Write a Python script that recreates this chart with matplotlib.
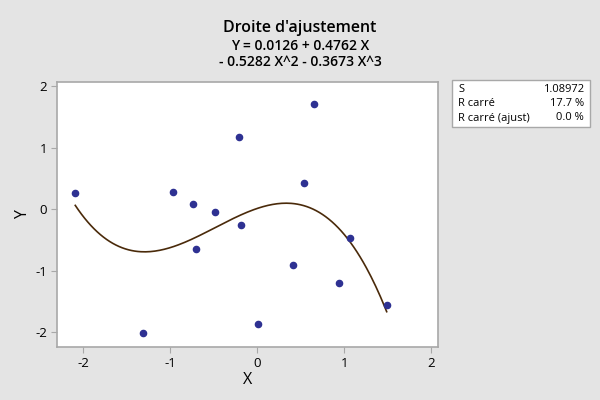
import numpy as np
import matplotlib
matplotlib.use("Agg")
import matplotlib.pyplot as plt
from matplotlib.patches import Rectangle

# observed points
x_vals = [-2.09, -1.31, -0.97, -0.74, -0.70, -0.48, -0.21, -0.18,
          0.01, 0.41, 0.54, 0.66, 0.94, 1.07, 1.49]
y_vals = [0.26, -2.01, 0.28, 0.08, -0.65, -0.05, 1.17, -0.26,
          -1.87, -0.91, 0.43, 1.72, -1.20, -0.47, -1.56]

# fitted cubic (from the title)
coefs = [0.0126, 0.4762, -0.5282, -0.3673]

stat_names = ["S", "R carré", "R carré (ajust)"]
stat_values = ["1.08972", "17.7 %", "0.0 %"]

x_ticks = [-2, -1, 0, 1, 2]
y_ticks = [-2, -1, 0, 1, 2]

plt.rcParams['font.family'] = ['Open Sans', 'DejaVu Sans']

bg = "#e4e4e4"
edge = "#a8a8a8"

fig = plt.figure(figsize=(6, 4), dpi=100, facecolor=bg)
ax = fig.add_axes([0.095, 0.1325, 0.635, 0.6625])
ax.set_facecolor("white")

xs = np.linspace(min(x_vals), max(x_vals), 200)
ys = coefs[0] + coefs[1] * xs + coefs[2] * xs ** 2 + coefs[3] * xs ** 3
ax.plot(xs, ys, color="#4a2a0a", linewidth=1.2, zorder=2)
ax.scatter(x_vals, y_vals, s=20, color="#2e3192", zorder=3)

ax.set_xlim(-2.30, 2.08)
ax.set_ylim(-2.24, 2.07)
ax.set_xticks(x_ticks)
ax.set_yticks(y_ticks)
ax.set_xticklabels([str(t) for t in x_ticks])
ax.set_yticklabels([str(t) for t in y_ticks])
ax.tick_params(direction="out", length=4, color=edge, labelsize=9.5, pad=3)
for side in ["top", "right", "bottom", "left"]:
    ax.spines[side].set_color(edge)
    ax.spines[side].set_linewidth(1.2)

ax.set_xlabel("X", fontsize=11.5, labelpad=2)
ax.set_ylabel("Y", fontsize=11.5, labelpad=3)

fig.text(0.5, 0.93, "Droite d'ajustement", ha="center", va="center",
         fontsize=11.5, fontweight="semibold")
fig.text(0.5, 0.885, "Y = 0.0126 + 0.4762 X", ha="center", va="center",
         fontsize=10, fontweight="semibold")
fig.text(0.5, 0.845, "- 0.5282 X^2 - 0.3673 X^3", ha="center", va="center",
         fontsize=10, fontweight="semibold")

# stats box
box = Rectangle((452 / 600, 1 - 127 / 400), 138 / 600, 47 / 400,
                transform=fig.transFigure, facecolor="white",
                edgecolor=edge, linewidth=1.0)
fig.patches.append(box)
for i, (name, val) in enumerate(zip(stat_names, stat_values)):
    yy = 1 - (89 + i * 14.5) / 400
    fig.text(458 / 600, yy, name, ha="left", va="center", fontsize=8)
    fig.text(584 / 600, yy, val, ha="right", va="center", fontsize=8)

fig.savefig("out.png", dpi=100, facecolor=bg)
